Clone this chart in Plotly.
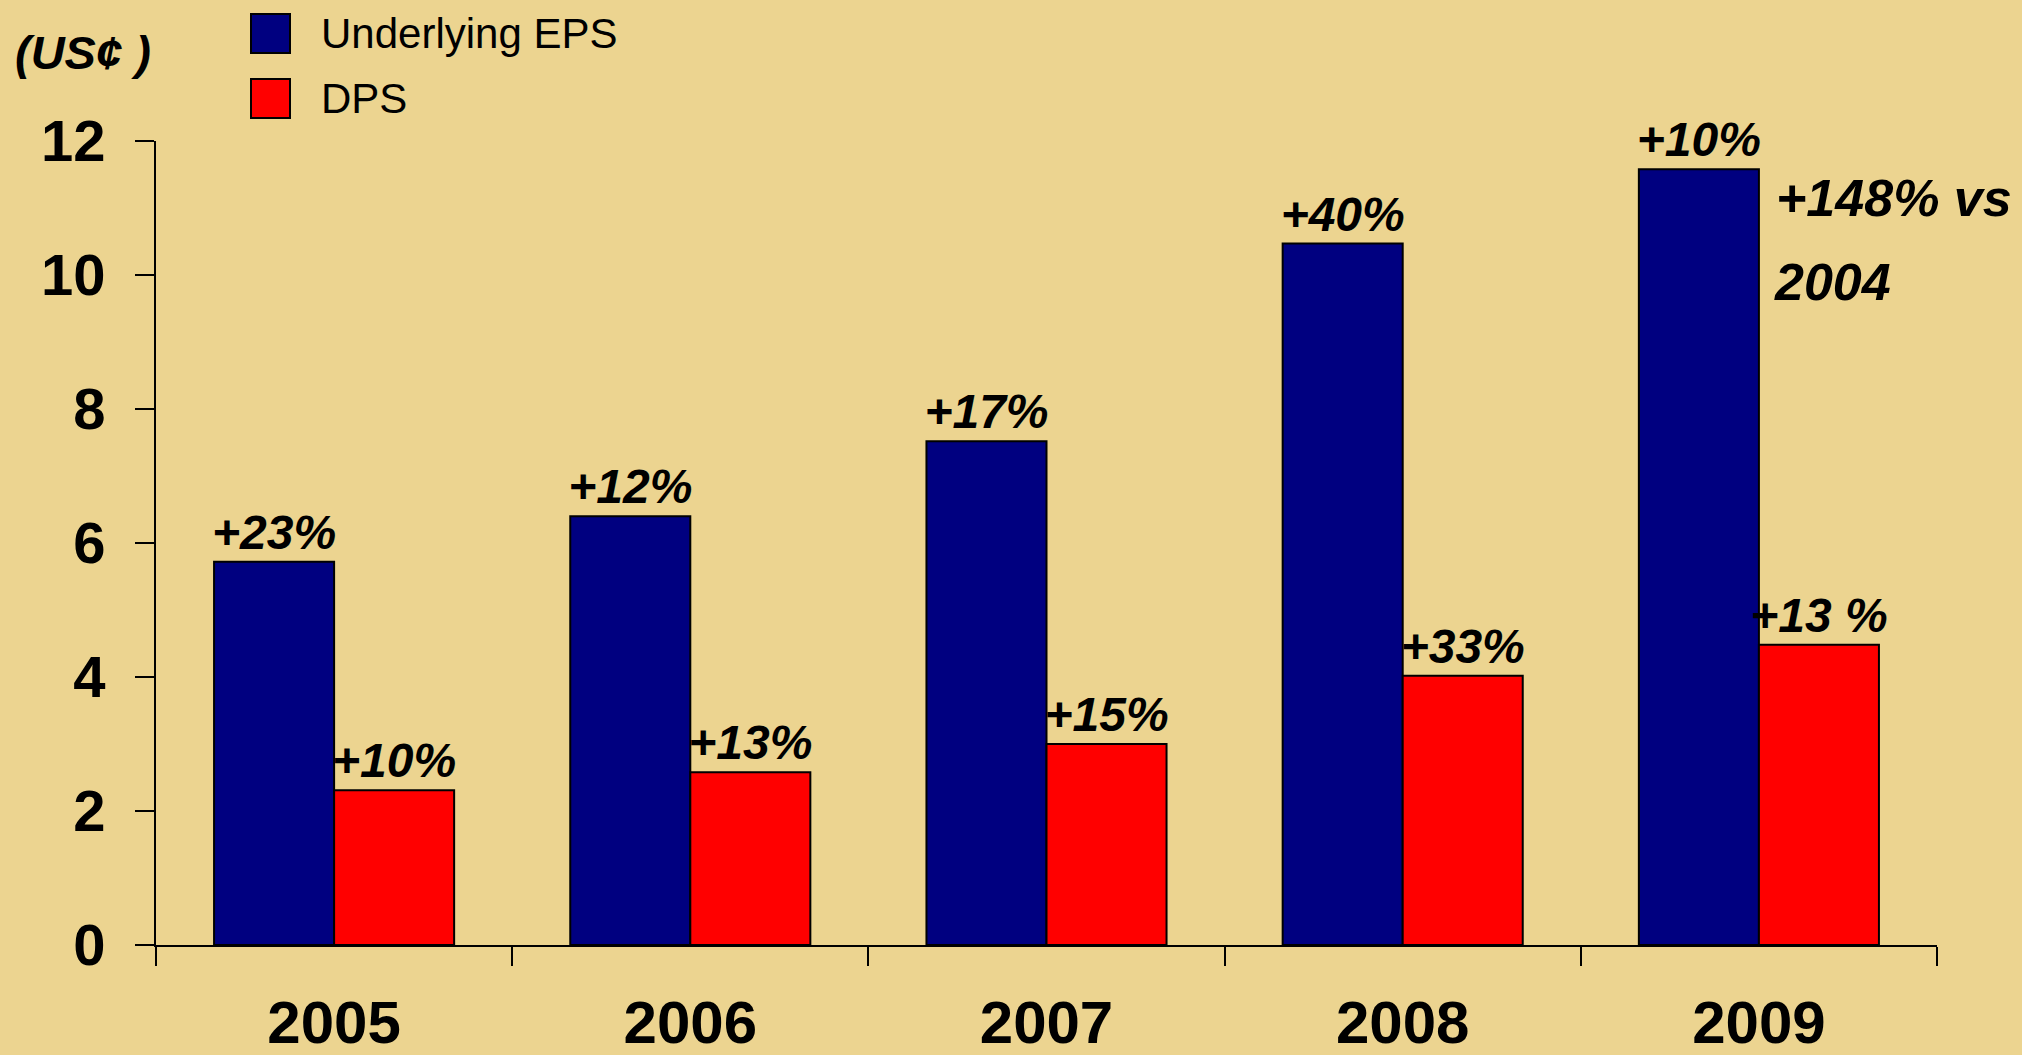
import plotly.graph_objects as go

years = ["2005", "2006", "2007", "2008", "2009"]
eps = [5.72, 6.40, 7.52, 10.47, 11.58]
dps = [2.31, 2.58, 3.00, 4.02, 4.48]
eps_growth = ["+23%", "+12%", "+17%", "+40%", "+10%"]
dps_growth = ["+10%", "+13%", "+15%", "+33%", "+13 %"]
series_names = ["Underlying EPS", "DPS"]
y_ticks = [0, 2, 4, 6, 8, 10, 12]

BG = "#ECD490"
NAVY = "#000080"
RED = "#FF0000"
FONT = "Liberation Sans, Arial, sans-serif"

W, H = 2022, 1055
L, R, T, B = 156, 85, 141, 110
PW, PH = W - L - R, H - T - B


def px_x(px):
    return (px - L) / PW


def px_y(py):
    return (H - B - py) / PH


label_font = dict(family=FONT, size=48, color="black", weight="bold", style="italic")

fig = go.Figure()
fig.add_trace(go.Bar(
    x=years, y=eps, name=series_names[0], text=eps_growth,
    textposition="outside", textfont=label_font, constraintext="none",
    cliponaxis=False, marker=dict(color=NAVY, line=dict(color="black", width=2)),
    showlegend=False,
))
fig.add_trace(go.Bar(
    x=years, y=dps, name=series_names[1], text=dps_growth,
    textposition="outside", textfont=label_font, constraintext="none",
    cliponaxis=False, marker=dict(color=RED, line=dict(color="black", width=2)),
    showlegend=False,
))

# custom legend (large squares)
legend_rows = [(series_names[0], NAVY, 14, 53), (series_names[1], RED, 79, 118)]
shapes = []
annotations = []
for name, col, top, bot in legend_rows:
    shapes.append(dict(
        type="rect", xref="paper", yref="paper",
        x0=px_x(251), x1=px_x(290), y0=px_y(bot), y1=px_y(top),
        fillcolor=col, line=dict(color="black", width=2), layer="above",
    ))
    annotations.append(dict(
        xref="paper", yref="paper", x=px_x(319), y=px_y((top + bot) / 2),
        xanchor="left", yanchor="middle", showarrow=False, text=name,
        font=dict(family=FONT, size=42, color="black"),
    ))

annotations.append(dict(
    xref="paper", yref="paper", x=px_x(13), y=px_y(52),
    xanchor="left", yanchor="middle", showarrow=False, text="(US¢ )",
    font=dict(family=FONT, size=47, color="black", weight="bold", style="italic"),
))
annotations.append(dict(
    xref="paper", yref="paper", x=px_x(1774), y=px_y(198),
    xanchor="left", yanchor="middle", showarrow=False, text="+148% vs",
    font=dict(family=FONT, size=52, color="black", weight="bold", style="italic"),
))
annotations.append(dict(
    xref="paper", yref="paper", x=px_x(1772), y=px_y(282),
    xanchor="left", yanchor="middle", showarrow=False, text="2004",
    font=dict(family=FONT, size=52, color="black", weight="bold", style="italic"),
))

fig.update_layout(
    width=W, height=H,
    margin=dict(l=L, r=R, t=T, b=B, pad=0, autoexpand=False),
    paper_bgcolor=BG, plot_bgcolor=BG,
    barmode="group", bargap=0.326, bargroupgap=0,
    showlegend=False,
    shapes=shapes, annotations=annotations,
    font=dict(family=FONT, color="black"),
)
fig.update_xaxes(
    type="category", showline=True, linecolor="black", linewidth=2,
    ticks="outside", ticklen=19, tickwidth=2, tickcolor="black",
    tickson="boundaries", showgrid=False, zeroline=False, automargin=False,
    tickfont=dict(family=FONT, size=60, color="black", weight="bold"),
    ticklabelstandoff=24,
)
fig.update_yaxes(
    range=[0, 12], tickvals=y_ticks, showline=True, linecolor="black", linewidth=2,
    ticks="outside", ticklen=19, tickwidth=2, tickcolor="black",
    showgrid=False, zeroline=False, automargin=False,
    tickfont=dict(family=FONT, size=58, color="black", weight="bold"),
    ticklabelstandoff=18,
)

fig.write_html(
    "out.html",
    config={"displayModeBar": False},
    post_script="document.body.style.margin='0';document.body.style.overflow='hidden';"
                "document.body.style.background='" + BG + "';",
)
